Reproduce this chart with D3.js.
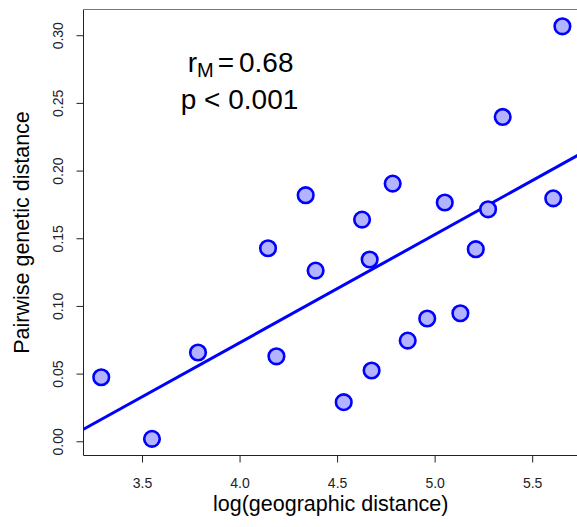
<!DOCTYPE html>
<html>
<head>
<meta charset="utf-8">
<script src="https://cdn.jsdelivr.net/npm/d3@7"></script>
<style>
  body { margin: 0; background: #fff; }
  svg { display: block; font-family: "Liberation Sans", Arial, Helvetica, sans-serif; }
</style>
</head>
<body>
<div id="chart"></div>
<script>
// log(geographic distance) vs pairwise genetic distance
var logDist = [3.291, 3.551, 3.787, 4.146, 4.189, 4.339, 4.390, 4.534, 4.628, 4.667, 4.677,
  4.785, 4.862, 4.962, 5.052, 5.132, 5.211, 5.274, 5.349, 5.608, 5.655];
var genDist = [0.0473, 0.0018, 0.0656, 0.1426, 0.0628, 0.1818, 0.1261, 0.0289, 0.1638, 0.1343, 0.0523,
  0.1904, 0.0744, 0.0907, 0.1764, 0.0946, 0.1419, 0.1714, 0.2396, 0.1795, 0.3066];
var xTicks = [3.5, 4.0, 4.5, 5.0, 5.5];
var yTicks = [0.00, 0.05, 0.10, 0.15, 0.20, 0.25, 0.30];
var fit = { intercept: -0.2467, slope: 0.07987 };
var statLabels = ['0.68', 'p < 0.001'];

var width = 577, height = 527;
var plot = { left: 83.5, top: 9.5, right: 578, bottom: 455.5 };

var svg = d3.select('#chart').append('svg')
  .attr('width', width)
  .attr('height', height);

var x = d3.scaleLinear().domain([3.2, 5.735]).range([plot.left, plot.right]);
var y = d3.scaleLinear().domain([-0.0105, 0.319]).range([plot.bottom, plot.top]);

// axes
var xAxis = svg.append('g')
  .attr('transform', 'translate(0,' + plot.bottom + ')')
  .call(d3.axisBottom(x).tickValues(xTicks).tickSize(7).tickPadding(16).tickFormat(d3.format('.1f')));
var yAxis = svg.append('g')
  .attr('transform', 'translate(' + plot.left + ',0)')
  .call(d3.axisLeft(y).tickValues(yTicks).tickSize(7).tickFormat(d3.format('.2f')));

[xAxis, yAxis].forEach(function (g) {
  g.select('.domain').remove();
  g.selectAll('line').attr('stroke', '#222');
  g.selectAll('text').attr('fill', '#222').style('font-size', '14px');
});
yAxis.selectAll('text')
  .attr('x', 0)
  .attr('dy', 0)
  .attr('text-anchor', 'middle')
  .attr('transform', 'translate(-21,0) rotate(-90)');

// frame
svg.append('line')
  .attr('x1', plot.left).attr('x2', plot.left)
  .attr('y1', plot.top).attr('y2', plot.bottom)
  .attr('stroke', '#222');
svg.append('line')
  .attr('x1', plot.left).attr('x2', plot.right)
  .attr('y1', plot.bottom).attr('y2', plot.bottom)
  .attr('stroke', '#222');
svg.append('line')
  .attr('x1', plot.left).attr('x2', plot.right)
  .attr('y1', plot.top).attr('y2', plot.top)
  .attr('stroke', '#777');

// regression line
var xd = x.domain();
svg.append('line')
  .attr('x1', x(xd[0])).attr('y1', y(fit.intercept + fit.slope * xd[0]))
  .attr('x2', x(xd[1])).attr('y2', y(fit.intercept + fit.slope * xd[1]))
  .attr('stroke', '#0000ff')
  .attr('stroke-width', 3);

// points
svg.append('g').selectAll('circle')
  .data(logDist)
  .enter().append('circle')
  .attr('cx', function (d) { return x(d); })
  .attr('cy', function (d, i) { return y(genDist[i]); })
  .attr('r', 7.8)
  .attr('fill', '#b3b3ff')
  .attr('stroke', '#0000ff')
  .attr('stroke-width', 2.6);

// annotation
var ann = svg.append('g').style('font-size', '28px').attr('fill', '#000');
var t1 = ann.append('text')
  .attr('x', x(4.0) + 1)
  .attr('y', 72)
  .attr('text-anchor', 'middle');
t1.append('tspan').text('r');
t1.append('tspan').attr('dy', 5).style('font-size', '20px').text('M');
t1.append('tspan').attr('dy', -5).attr('dx', 4).text('=');
t1.append('tspan').attr('dx', 5).text(statLabels[0]);
ann.append('text')
  .attr('x', x(4.0))
  .attr('y', 109)
  .attr('text-anchor', 'middle')
  .text(statLabels[1]);

// axis titles
svg.append('text')
  .attr('x', (plot.left + plot.right) / 2)
  .attr('y', 511)
  .attr('text-anchor', 'middle')
  .style('font-size', '21.5px')
  .text('log(geographic distance)');
svg.append('text')
  .attr('transform', 'translate(28.5,' + ((plot.top + plot.bottom) / 2) + ') rotate(-90)')
  .attr('text-anchor', 'middle')
  .style('font-size', '21.5px')
  .text('Pairwise genetic distance');
</script>
</body>
</html>
